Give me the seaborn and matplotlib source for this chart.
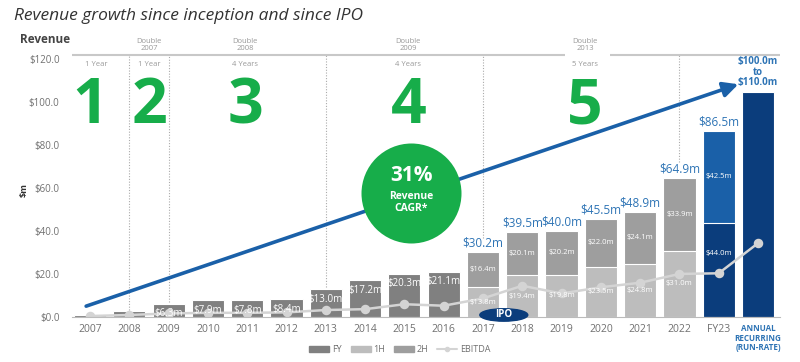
import matplotlib
matplotlib.use('Agg')
import matplotlib.pyplot as plt
import seaborn as sns
import pandas as pd
from matplotlib.patches import Ellipse, Patch
from matplotlib.lines import Line2D

# ---- data ----
categories = ['2007', '2008', '2009', '2010', '2011', '2012', '2013', '2014', '2015',
              '2016', '2017', '2018', '2019', '2020', '2021', '2022', 'FY23', 'ARR']
tick_labels = categories[:-1] + ['ANNUAL\nRECURRING\n(RUN-RATE)']

fy_years = ['2007', '2008', '2009', '2010', '2011', '2012', '2013', '2014', '2015', '2016']
fy_values = [1.1, 3.0, 6.3, 7.9, 7.8, 8.4, 13.0, 17.2, 20.3, 21.1]

half_years = ['2017', '2018', '2019', '2020', '2021', '2022', 'FY23']
h1_values = [13.8, 19.4, 19.8, 23.5, 24.8, 31.0, 44.0]
h2_values = [16.4, 20.1, 20.2, 22.0, 24.1, 33.9, 42.5]
totals = [30.2, 39.5, 40.0, 45.5, 48.9, 64.9, 86.5]

arr_value = 105.0
arr_label = '$100.0m\nto\n$110.0m'

ebitda = [0.5, 1.0, 1.7, 2.0, 2.0, 2.2, 3.3, 3.7, 6.0, 5.3,
          8.7, 14.6, 11.0, 13.9, 16.0, 20.1, 20.4, 34.4]

stage_numbers = ['1', '2', '3', '4', '5']
stage_x = [0.0, 1.5, 3.95, 8.1, 12.6]
stage_years = ['1 Year', '1 Year', '4 Years', '4 Years', '5 Years']
stage_headers = ['', 'Double\n2007', 'Double\n2008', 'Double\n2009', 'Double\n2013']
divider_x = [1, 2, 6, 10, 15]
divider_bottom = [3.5, 7.0, 14.0, 37.0, 72.0]

# ---- colours ----
FY_C = '#808080'
H1_C = '#bdbdbd'
H2_C = '#9e9e9e'
NAVY = '#0b3d7c'
MID_BLUE = '#1a60a8'
LABEL_BLUE = '#2e74b5'
GREEN = '#17ad4a'
GREY_TXT = '#707070'

sns.set_style('white')
plt.rcParams['font.family'] = ['Open Sans', 'DejaVu Sans']

fig = plt.figure(figsize=(8, 3.62), dpi=100)
ax = fig.add_axes([0.09, 0.124, 0.885, 0.724])

bar_w = 0.82
common = dict(order=categories, width=bar_w, saturation=1, edgecolor='white',
              linewidth=0.8, ax=ax)

sns.barplot(x=fy_years, y=fy_values, color=FY_C, **common)

hist = pd.DataFrame({'year': half_years, 'h1': h1_values, 'h2': h2_values})
hist['total'] = hist['h1'] + hist['h2']
past = hist[hist['year'] != 'FY23']
cur = hist[hist['year'] == 'FY23']
sns.barplot(data=past, x='year', y='total', color=H2_C, **common)
sns.barplot(data=past, x='year', y='h1', color=H1_C, **common)
sns.barplot(data=cur, x='year', y='total', color=MID_BLUE, **common)
sns.barplot(data=cur, x='year', y='h1', color=NAVY, **common)
sns.barplot(x=['ARR'], y=[arr_value], color=NAVY, **common)

sns.pointplot(x=categories, y=ebitda, order=categories, color='#d4d4d4',
              markers='o', markersize=5.5, linewidth=1.8, errorbar=None, ax=ax)

# ---- labels on bars ----
for i, v in enumerate(fy_values):
    if v < 5:
        continue
    ax.text(i, v - 4.7, f'${v:.1f}m', ha='center', va='center', color='white',
            fontsize=7, zorder=5)

for year, h1, h2, tot in zip(half_years, h1_values, h2_values, totals):
    i = categories.index(year)
    h1_y = h1 * 0.67 if year == 'FY23' else h1 / 2
    ax.text(i, h1_y, f'${h1:.1f}m', ha='center', va='center', color='white',
            fontsize=5.5, zorder=5)
    ax.text(i, h1 + h2 / 2, f'${h2:.1f}m', ha='center', va='center', color='white',
            fontsize=5.5, zorder=5)
    ax.text(i, tot + 1.2, f'${tot:.1f}m', ha='center', va='bottom',
            color=LABEL_BLUE, fontsize=8.5, zorder=5)

ax.text(len(categories) - 1, arr_value + 1.5, arr_label, ha='center', va='bottom',
        color=LABEL_BLUE, fontsize=7, fontweight='bold', linespacing=0.95)

# ---- growth arrow and CAGR bubble ----
ax.annotate('', xy=(16.5, 108.4), xytext=(-0.1, 5.1),
            arrowprops=dict(arrowstyle='-|>,head_length=0.9,head_width=0.45',
                            color=MID_BLUE, lw=2.6, shrinkA=0, shrinkB=0), zorder=4)
ax.scatter([8.17], [58], s=(72 ** 2), color=GREEN, zorder=6, linewidths=0)
ax.text(8.17, 66, '31%', ha='center', va='center', color='white', fontsize=15,
        fontweight='bold', zorder=7)
ax.text(8.17, 53.5, 'Revenue\nCAGR*', ha='center', va='center', color='white',
        fontsize=7.5, fontweight='bold', linespacing=1.1, zorder=7)

# IPO marker
ax.add_patch(Ellipse((10.53, 1.0), 1.22, 5.8, color=NAVY, zorder=6, clip_on=False))
ax.text(10.53, 1.0, 'IPO', ha='center', va='center', color='white', fontsize=7,
        fontweight='bold', zorder=7)

# ---- stage annotations ----
top_y = 122
for x, num, yrs, head in zip(stage_x, stage_numbers, stage_years, stage_headers):
    ax.text(x, 98, num, ha='center', va='center', color=GREEN, fontsize=45,
            fontweight='bold', zorder=3)
    ax.text(x + 0.15 if num == '1' else x, 117.8, yrs, ha='center', va='center',
            color='#999999', fontsize=5.5)
    if head:
        ax.text(x, 126.6, head, ha='center', va='center', color='#999999',
                fontsize=5.5, linespacing=1.0, clip_on=False)

for x, b in zip(divider_x, divider_bottom):
    ax.vlines(x, b, top_y, colors='#aaaaaa', linestyles=(0, (1, 1.5)), linewidth=0.8,
              zorder=1)

xmin, xmax = -0.46, 17.56
ax.hlines(top_y, xmin, 12.09, colors='#c8c8c8', linewidth=1.5, clip_on=False)
ax.hlines(top_y, 13.23, xmax, colors='#c8c8c8', linewidth=1.5, clip_on=False)

# ---- axes styling ----
ax.set_xlim(xmin, xmax)
ax.set_ylim(0, top_y)
sns.despine(ax=ax, left=True, top=True, right=True)
ax.spines['bottom'].set_color('#bbbbbb')
ax.set_yticks(range(0, 121, 20))
ax.set_yticklabels([f'${v:.1f}' for v in range(0, 121, 20)], color=GREY_TXT, fontsize=7)
ax.set_xticks(range(len(categories)))
ax.set_xticklabels(tick_labels, color=GREY_TXT, fontsize=7.5)
arr_tick = ax.get_xticklabels()[-1]
arr_tick.set_color(LABEL_BLUE)
arr_tick.set_fontsize(5.8)
arr_tick.set_fontweight('bold')
arr_tick.set_linespacing(1.1)
ax.tick_params(axis='both', length=0)
ax.tick_params(axis='y', pad=9)
ax.tick_params(axis='x', pad=5)
ax.set_xlabel('')
ax.set_ylabel('')

fig.text(0.03, 1 - 190 / 362, '$m', rotation=90, fontsize=6.5, fontweight='bold',
         color='#333333', ha='center', va='center')
fig.text(0.018, 0.955, 'Revenue growth since inception and since IPO', fontsize=12.5,
         style='italic', color='#333333', va='center')
fig.text(0.025, 0.89, 'Revenue', fontsize=8.5, fontweight='bold', color='#444444',
         va='center')

handles = [Patch(color=FY_C), Patch(color=H1_C), Patch(color=H2_C),
           Line2D([], [], color='#d4d4d4', marker='o', markersize=3, lw=1.5)]
fig.legend(handles, ['FY', '1H', '2H', 'EBITDA'], loc='center', ncol=4,
           bbox_to_anchor=(0.5, 0.035), frameon=False, fontsize=6.5,
           handlelength=2.2, handleheight=0.6, columnspacing=1.0, handletextpad=0.3,
           labelcolor=GREY_TXT)

fig.savefig('out.png', dpi=100)
